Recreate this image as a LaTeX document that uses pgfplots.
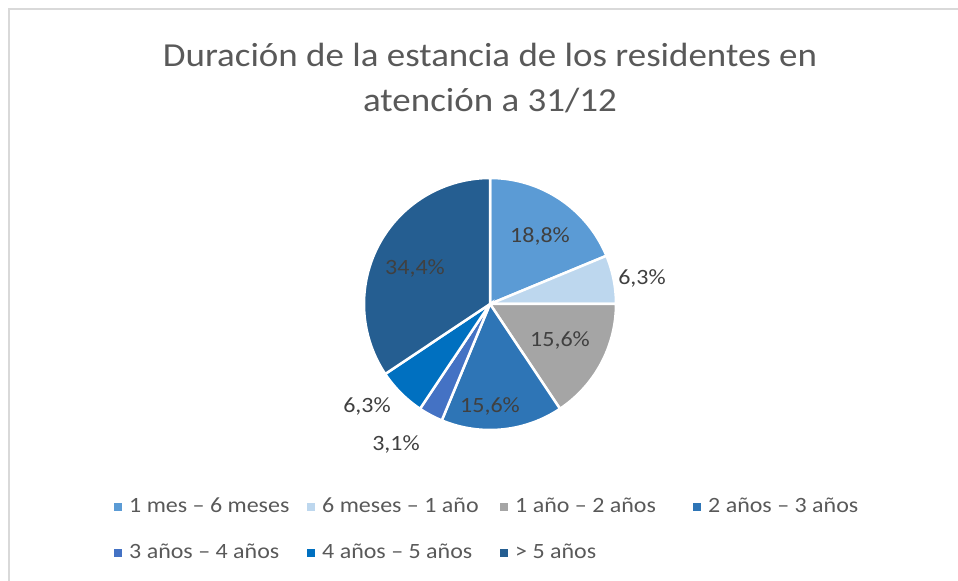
\documentclass[border=0pt]{standalone}
\usepackage{fontspec}
\setmainfont{Carlito}[FakeStretch=1.1]
\usepackage{pgfplots}
\usepackage{pgfplotstable}
\pgfplotsset{compat=1.18}

\definecolor{c1}{HTML}{5B9BD5}
\definecolor{c2}{HTML}{BDD7EE}
\definecolor{c3}{HTML}{A5A5A5}
\definecolor{c4}{HTML}{2E75B6}
\definecolor{c5}{HTML}{4472C4}
\definecolor{c6}{HTML}{0070C0}
\definecolor{c7}{HTML}{255E91}
\definecolor{titlegray}{HTML}{595959}
\definecolor{labelgray}{HTML}{404040}
\definecolor{framegray}{HTML}{D9D9D9}

% number of residents in each class (percentages 18.8, 6.3, 15.6, 15.6, 3.1, 6.3, 34.4)
\pgfplotstableread{
n
6
2
5
5
1
2
11
}\pietable

\pgfplotstablegetrowsof{\pietable}
\pgfmathtruncatemacro\pielast{\pgfplotsretval-1}
\gdef\pietotal{0}
\foreach \i in {0,...,\pielast}{%
  \pgfplotstablegetelem{\i}{n}\of\pietable
  \pgfmathsetmacro\tmpv{\pietotal+\pgfplotsretval}%
  \global\let\pietotal\tmpv
}
\gdef\pieacc{0}
\foreach \i in {0,...,\pielast}{%
  \pgfplotstablegetelem{\i}{n}\of\pietable
  \let\nval\pgfplotsretval
  \pgfmathsetmacro\sa{90-360*\pieacc/\pietotal}%
  \pgfmathsetmacro\ea{90-360*(\pieacc+\nval)/\pietotal}%
  \expandafter\xdef\csname pieS\i\endcsname{\sa}%
  \expandafter\xdef\csname pieE\i\endcsname{\ea}%
  \pgfmathsetmacro\tmpv{\pieacc+\nval}%
  \global\let\pieacc\tmpv
}

\newcommand\pieslice[2]{%
  \edef\doslice{\noexpand\addplot[fill=#2, draw=white, line width=2.5bp,
     domain=\csname pieE#1\endcsname:\csname pieS#1\endcsname, samples=90,
     variable=\noexpand\ang]
     ({490+126*cos(\noexpand\ang)},{277+126*sin(\noexpand\ang)}) -- (axis cs:490,277) -- cycle;}%
  \doslice}

\newcommand\lgfont{\fontsize{21.8bp}{26bp}\selectfont}
\newcommand\lbl[1]{\makebox[178bp][l]{#1}}

\begin{document}
\begin{tikzpicture}
\begin{axis}[
  width=958bp, height=581bp, scale only axis,
  xmin=0, xmax=958, ymin=0, ymax=581,
  hide axis, clip=false,
  legend columns=4,
  legend image code/.code={\fill[#1, draw=none] (0bp,-4bp) rectangle (8bp,4bp);},
  legend style={at={(axis cs:114,84)}, anchor=north west, draw=none, fill=none,
    inner sep=0pt, row sep=27bp,
    nodes={inner sep=0pt, text height=15bp, text depth=4bp, font=\lgfont, text=titlegray},
    /tikz/every odd column/.append style={column sep=7bp}},
]
\pieslice{0}{c1}\addlegendentry{\lbl{1 mes – 6 meses}}
\pieslice{1}{c2}\addlegendentry{\lbl{6 meses – 1 año}}
\pieslice{2}{c3}\addlegendentry{\lbl{1 año – 2 años}}
\pieslice{3}{c4}\addlegendentry{\lbl{2 años – 3 años}}
\pieslice{4}{c5}\addlegendentry{\lbl{3 años – 4 años}}
\pieslice{5}{c6}\addlegendentry{\lbl{4 años – 5 años}}
\pieslice{6}{c7}\addlegendentry{\lbl{> 5 años}}

\draw[framegray, line width=1.5bp] (axis cs:9,0) -- (axis cs:9,572) -- (axis cs:958,572);

\node[anchor=base, text=titlegray, font=\fontsize{33.6bp}{40bp}\selectfont] at (axis cs:490,514) {Duración de la estancia de los residentes en};
\node[anchor=base, text=titlegray, font=\fontsize{33.6bp}{40bp}\selectfont] at (axis cs:490,469) {atención a 31/12};

\begin{scope}[every node/.style={text=labelgray, font=\lgfont, inner sep=0pt, text height=14bp, text depth=0pt, anchor=center}]
\node at (axis cs:540,345) {18,8\%};
\node at (axis cs:642,303) {6,3\%};
\node at (axis cs:560,241) {15,6\%};
\node at (axis cs:490,175) {15,6\%};
\node at (axis cs:396,137) {3,1\%};
\node at (axis cs:367,175) {6,3\%};
\node at (axis cs:415,313) {34,4\%};
\end{scope}
\end{axis}
\pgfresetboundingbox
\path (0,0) rectangle (958bp,581bp);
\end{tikzpicture}
\end{document}
